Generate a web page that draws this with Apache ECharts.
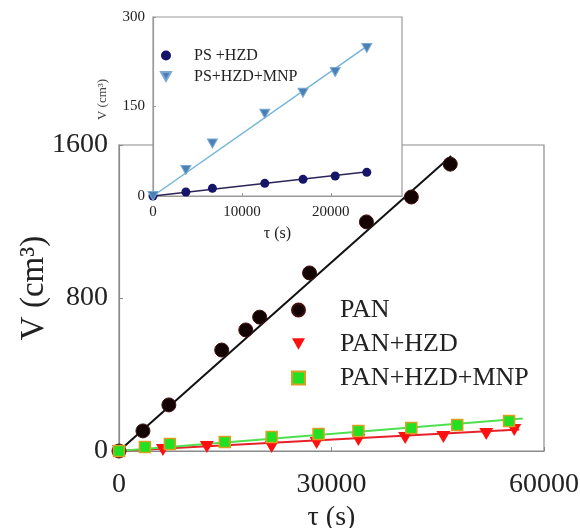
<!DOCTYPE html>
<html>
<head>
<meta charset="utf-8">
<script src="https://cdn.jsdelivr.net/npm/echarts@6/dist/echarts.min.js"></script>
<style>html,body{margin:0;padding:0;background:#fff}#c{width:580px;height:528px}</style>
</head>
<body>
<div id="c"></div>
<script>
// ---- main plot data (tau in s, V in cm3) ----
const panData = [[0,0],[3380,105],[7040,241],[14500,528],[17900,633],[19860,700],[26900,931],[34930,1198],[41270,1328],[46760,1500]];
const panHzdData = [[0,0],[6200,5],[12400,21],[21550,21],[27900,42],[33800,57],[40400,68],[45800,73],[51850,89],[55800,110]];
const panHzdMnpData = [[0,0],[3660,21],[7180,37],[14930,47],[21550,73],[28170,89],[33800,105],[41270,120],[47750,136],[55070,157]];
const panFit = [[0,0],[46900,1543]];
const panHzdFit = [[0,0],[56500,112]];
const panHzdMnpFit = [[0,0],[57000,170]];
const mainXTicks = [0,30000,60000];
const mainYTicks = [0,800,1600];
// ---- inset data ----
const psHzdData = [[0,0],[3700,6.7],[6680,12.8],[12570,21.2],[16870,27.9],[20490,33.5],[24040,39.6]];
const psHzdMnpData = [[0,0],[3700,43.5],[6680,88],[12570,138],[16870,173],[20490,208],[24040,248]];
const psHzdFit = [[0,0],[24150,40.7]];
const psHzdMnpFit = [[0,0],[24150,252]];
const insetXTicks = [0,10000,20000];
const insetXMax = 28000;
const insetYTicks = [0,150,300];

const FONT = "'Liberation Serif','Times New Roman',serif";
const TXT = '#222';
const DOWN_TRI = 'path://M0,0 L10,0 L5,9 Z';
const plain = v => String(v);
const chart = echarts.init(document.getElementById('c'), null, {renderer:'canvas'});

const option = {
  animation:false,
  backgroundColor:'#fff',
  textStyle:{fontFamily:FONT},
  grid:[
    {left:119, right:36, top:145, bottom:77, show:true, borderColor:'#8a8a8a', borderWidth:1.2, z:0, outerBoundsMode:'none', containLabel:false},
    {left:153, width:249, top:17, height:179, show:true, borderColor:'#9a9a9a', borderWidth:1.2, backgroundColor:'#fff', z:3, outerBoundsMode:'none', containLabel:false}
  ],
  xAxis:[
    {gridIndex:0, type:'value', min:mainXTicks[0], max:mainXTicks[2], interval:mainXTicks[1]-mainXTicks[0],
     axisLine:{show:true, lineStyle:{color:'#8a8a8a', width:1.2}}, axisTick:{inside:true, length:4, lineStyle:{color:'#8a8a8a'}},
     splitLine:{show:false},
     axisLabel:{fontFamily:FONT, fontSize:28, color:TXT, margin:20, formatter:plain},
     name:'τ (s)', nameLocation:'middle', nameGap:50, nameTextStyle:{fontFamily:FONT, fontSize:28, color:TXT}},
    {gridIndex:1, type:'value', min:insetXTicks[0], max:insetXMax, interval:insetXTicks[1]-insetXTicks[0], z:4,
     axisLine:{show:true, lineStyle:{color:'#9a9a9a', width:1.2}}, axisTick:{inside:true, length:3, lineStyle:{color:'#9a9a9a'}},
     splitLine:{show:false},
     axisLabel:{fontFamily:FONT, fontSize:15, color:TXT, margin:9, formatter:plain, showMaxLabel:false},
     name:'τ (s)', nameLocation:'middle', nameGap:30, nameTextStyle:{fontFamily:FONT, fontSize:16, color:TXT}}
  ],
  yAxis:[
    {gridIndex:0, type:'value', min:mainYTicks[0], max:mainYTicks[2], interval:mainYTicks[1]-mainYTicks[0],
     axisLine:{show:true, lineStyle:{color:'#8a8a8a', width:1.2}}, axisTick:{inside:true, length:4, lineStyle:{color:'#8a8a8a'}},
     splitLine:{show:false},
     axisLabel:{fontFamily:FONT, fontSize:28, color:TXT, margin:11, formatter:plain},
     name:'V (cm³)', nameLocation:'middle', nameRotate:90, nameGap:68, nameMoveOverlap:false,
     nameTextStyle:{fontFamily:FONT, fontSize:33, color:TXT, padding:[0,0,0,20]}},
    {gridIndex:1, type:'value', min:insetYTicks[0], max:insetYTicks[2], interval:insetYTicks[1]-insetYTicks[0], z:4,
     axisLine:{show:true, lineStyle:{color:'#9a9a9a', width:1.2}}, axisTick:{inside:true, length:3, lineStyle:{color:'#9a9a9a'}},
     splitLine:{show:false},
     axisLabel:{fontFamily:FONT, fontSize:15, color:TXT, margin:8, formatter:plain},
     name:'V (cm³)', nameLocation:'middle', nameRotate:90, nameGap:44,
     nameTextStyle:{fontFamily:FONT, fontSize:13, color:'#444', padding:[0,0,0,14]}}
  ],
  legend:[
    {data:['PAN','PAN+HZD','PAN+HZD+MNP'], orient:'vertical', left:286, top:290, itemGap:4,
     itemWidth:13, itemHeight:13,
     textStyle:{fontFamily:FONT, fontSize:26, color:TXT, lineHeight:30, padding:[0,0,0,30]}},
    {data:['PS +HZD','PS+HZD+MNP'], orient:'vertical', left:155, top:41, itemGap:2, z:6,
     itemWidth:10, itemHeight:10,
     textStyle:{fontFamily:FONT, fontSize:16, color:TXT, lineHeight:19, padding:[0,0,0,18]}}
  ],
  series:[
    {name:'PAN fit', type:'line', xAxisIndex:0, yAxisIndex:0, data:panFit, symbol:'none', lineStyle:{color:'#111', width:2}, z:2},
    {name:'PAN+HZD fit', type:'line', xAxisIndex:0, yAxisIndex:0, data:panHzdFit, symbol:'none', lineStyle:{color:'#e8202a', width:2}, z:2},
    {name:'PAN+HZD+MNP fit', type:'line', xAxisIndex:0, yAxisIndex:0, data:panHzdMnpFit, symbol:'none', lineStyle:{color:'#4ee04e', width:2}, z:2},
    {name:'PAN', type:'scatter', xAxisIndex:0, yAxisIndex:0, data:panData, symbol:'circle', symbolSize:14,
     itemStyle:{color:'#140303', borderColor:'#401010', borderWidth:1, opacity:1}, z:3},
    {name:'PAN+HZD', type:'scatter', xAxisIndex:0, yAxisIndex:0, data:panHzdData, symbol:DOWN_TRI, symbolSize:[14,12],
     itemStyle:{color:'#ff1010', opacity:1}, z:3},
    {name:'PAN+HZD+MNP', type:'scatter', xAxisIndex:0, yAxisIndex:0, data:panHzdMnpData, symbol:'rect', symbolSize:11,
     itemStyle:{color:'#22e022', borderColor:'#d8a020', borderWidth:1.5, opacity:1}, z:3},
    {name:'PS +HZD fit', type:'line', xAxisIndex:1, yAxisIndex:1, data:psHzdFit, symbol:'none', lineStyle:{color:'#2a2458', width:1.5}, z:5},
    {name:'PS+HZD+MNP fit', type:'line', xAxisIndex:1, yAxisIndex:1, data:psHzdMnpFit, symbol:'none', lineStyle:{color:'#74b4d8', width:1.5}, z:5},
    {name:'PS +HZD', type:'scatter', xAxisIndex:1, yAxisIndex:1, data:psHzdData, symbol:'circle', symbolSize:9,
     itemStyle:{color:'#15156a', opacity:1}, z:6},
    {name:'PS+HZD+MNP', type:'scatter', xAxisIndex:1, yAxisIndex:1, data:psHzdMnpData, symbol:DOWN_TRI, symbolSize:[10,9],
     itemStyle:{color:'#4a80b8', borderColor:'#7aa8d0', borderWidth:1, opacity:1}, z:6}
  ]
};
chart.setOption(option);
</script>
</body>
</html>
